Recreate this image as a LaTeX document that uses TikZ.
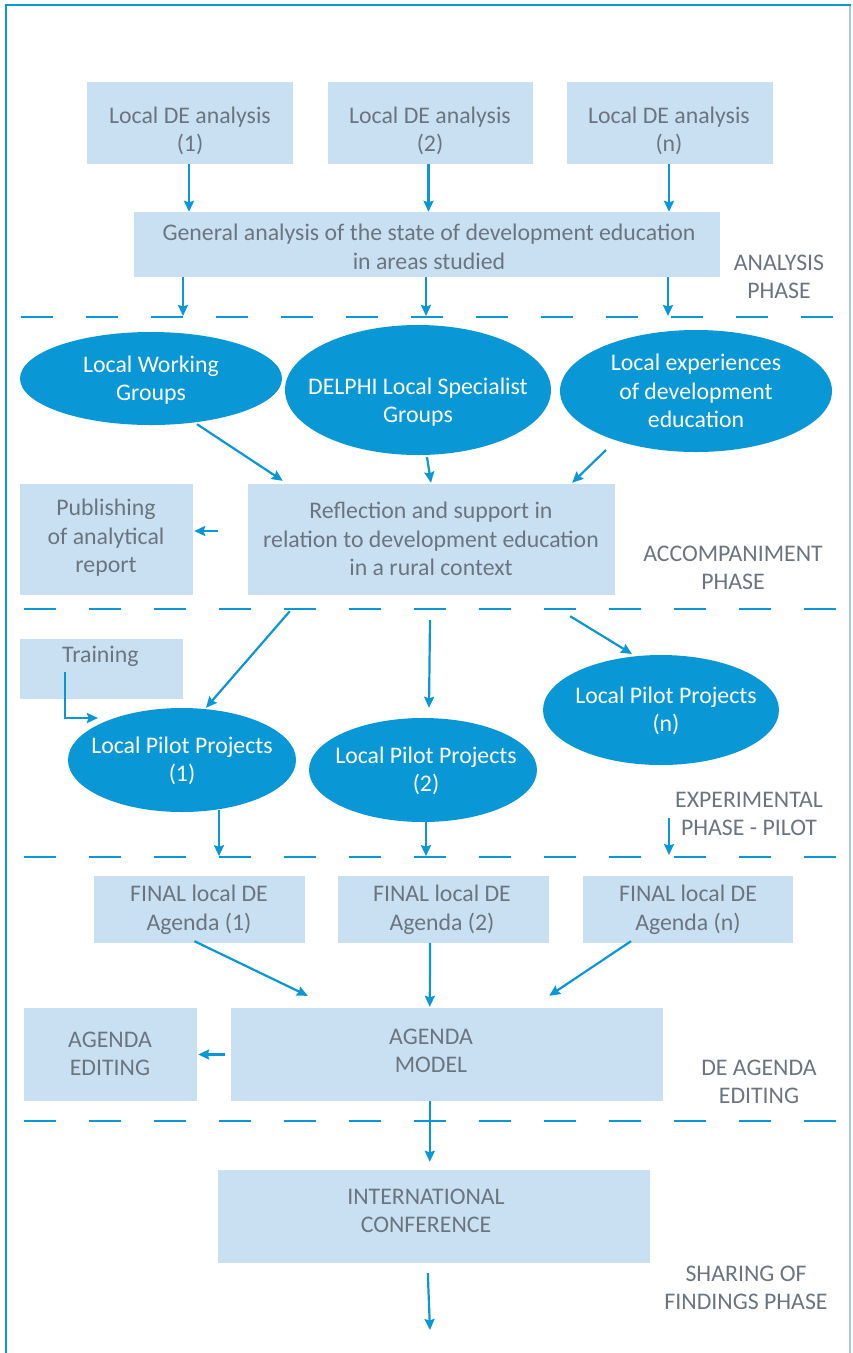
\documentclass[tikz,border=0pt]{standalone}
\usepackage{fontspec}
\setmainfont{Carlito}
\usetikzlibrary{shapes.geometric,arrows.meta,calc}
\definecolor{boxfill}{RGB}{201,224,242}
\definecolor{ellfill}{RGB}{9,151,214}
\definecolor{txtgray}{RGB}{107,117,128}
\definecolor{edgeblue}{RGB}{160,205,235}
\tikzset{
  box/.style={rectangle, fill=boxfill, draw=none, inner sep=0pt},
  oval/.style={ellipse, fill=ellfill, draw=none, inner sep=0pt},
  txt/.style={align=center, text=txtgray, inner sep=0pt, font=\fontsize{23.8}{28.5}\selectfont},
  wtxt/.style={align=center, text=white, inner sep=0pt, font=\fontsize{23.8}{28.5}\selectfont},
  arr/.style={draw=ellfill, line width=2.2pt, -{Stealth[length=11pt,width=10pt,inset=1.5pt]}},
  sep/.style={draw=ellfill, line width=2.6pt, dash pattern=on 32pt off 33pt},
}
\begin{document}
\begin{tikzpicture}[x=1pt,y=-1pt]
\useasboundingbox (0,0) rectangle (853,1353);
% frame
\draw[edgeblue, line width=1.2pt] (850,5) -- (850,1353);
\draw[ellfill, line width=2.6pt] (6,1353) -- (6,5) -- (851,5);
% separators
\draw[sep] (21,317) -- (837,317);
\draw[sep] (24,609) -- (837,609);
\draw[sep] (24,857) -- (837,857);
\draw[sep] (24,1121) -- (837,1121);

% analysis phase
\node[box, minimum width=206, minimum height=82] (lde1) at (190,123) {};
\node[box, minimum width=205, minimum height=82] (lde2) at (430.5,123) {};
\node[box, minimum width=206, minimum height=82] (lden) at (670,123) {};
\node[txt] (lde1t) at (190,131) {Local DE analysis\\(1)};
\node[txt] (lde2t) at (430,131) {Local DE analysis\\(2)};
\node[txt] (ldent) at (669,131) {Local DE analysis\\(n)};
\node[box, minimum width=586, minimum height=65] (gen) at (427,244.5) {};
\node[txt] (gent) at (429,247) {General analysis of the state of development education\\in areas studied};
\node[txt] (ph1) at (779,277) {ANALYSIS\\PHASE};
\draw[arr] ($(lde1.south)+(-1,0)$) -- ($(lde1.south |- gen.north)+(-1,0)$);
\draw[arr] ($(lde2.south)+(-2,0)$) -- ($(lde2.south |- gen.north)+(-2,0)$);
\draw[arr] ($(lden.south)+(-1,0)$) -- ($(lden.south |- gen.north)+(-1,0)$);
\coordinate (g1) at (183,316);
\coordinate (g2) at (426,316);
\coordinate (g3) at (668,316);
\draw[arr] (gen.south -| g1) -- (g1);
\draw[arr] (gen.south -| g2) -- (g2);
\draw[arr] (gen.south -| g3) -- (g3);

% accompaniment phase
\node[oval, minimum width=262, minimum height=93] (lwg) at (151,378.5) {};
\node[oval, minimum width=266, minimum height=130] (delphi) at (418,390) {};
\node[oval, minimum width=272, minimum height=122] (lexp) at (696,391) {};
\node[wtxt] (lwgt) at (151,380) {Local Working\\Groups};
\node[wtxt] (delphit) at (418,402) {DELPHI Local Specialist\\Groups};
\node[wtxt] (lexpt) at (696,391) {Local experiences\\of development\\education};
\node[box, minimum width=367, minimum height=111] (refl) at (431.5,539.5) {};
\node[txt] (reflt) at (431,539) {Reflection and support in\\relation to development education\\in a rural context};
\node[box, minimum width=173, minimum height=111] (pub) at (106.5,539.5) {};
\node[txt] (pubt) at (106,538) {Publishing\\of analytical\\report};
\node[txt] (ph2) at (733,568) {ACCOMPANIMENT\\PHASE};
\draw[arr] ($(lwg.south)+(46,-1)$) -- ($(refl.north west)+(35,-3)$);
\draw[arr] ($(delphi.south)+(9,2)$) -- ($(refl.north)+(-0.5,-1)$);
\draw[arr] ($(lexp.center)+(-90,59)$) -- ($(refl.north east)+(-43,-1)$);
\draw[arr] ($(refl.west)+(-30,-8.5)$) -- ($(pub.east)+(1,-8.5)$);

% experimental phase
\node[box, minimum width=163, minimum height=60] (train) at (101.5,669) {};
\node[txt, anchor=west] (traint) at (62,656) {Training};
\node[oval, minimum width=228, minimum height=104] (lpp1) at (182,760) {};
\node[oval, minimum width=228, minimum height=104] (lpp2) at (423,770) {};
\node[oval, minimum width=236, minimum height=110] (lppn) at (661,710) {};
\node[wtxt] (lpp1t) at (182,761) {Local Pilot Projects\\(1)};
\node[wtxt] (lpp2t) at (426,771) {Local Pilot Projects\\(2)};
\node[wtxt] (lppnt) at (666,711) {Local Pilot Projects\\(n)};
\node[txt] (ph3) at (749,814) {EXPERIMENTAL\\PHASE - PILOT};
\draw[arr] ($(refl.south west)+(42,16)$) -- ($(lpp1.north)+(24,0)$);
\draw[arr] ($(refl.south)+(-1.5,25)$) -- ($(lpp2.north)+(6,-10)$);
\draw[arr] ($(refl.south east)+(-45,21)$) -- ($(lppn.center)+(-29,-56)$);
\draw[draw=ellfill, line width=2.2pt] (65,672) |- (80,718);
\draw[arr] (65,718) -- ($(lpp1.center)+(-84,-42)$);
\draw[arr] ($(lpp1.south)+(37,-2)$) -- ($(lpp1.south)+(37,44)$);
\draw[arr] ($(lpp2.south)+(3,0)$) -- ($(lpp2.south)+(3,34)$);
\coordinate (fr) at (669,818);
\draw[arr] (fr) -- (669,855);

% agenda editing
\node[box, minimum width=211, minimum height=67] (fin1) at (199.5,909.5) {};
\node[box, minimum width=211, minimum height=67] (fin2) at (443.5,909.5) {};
\node[box, minimum width=210, minimum height=67] (finn) at (688,909.5) {};
\node[txt] (fin1t) at (199,910) {FINAL local DE\\Agenda (1)};
\node[txt] (fin2t) at (442,910) {FINAL local DE\\Agenda (2)};
\node[txt] (finnt) at (688,910) {FINAL local DE\\Agenda (n)};
\node[box, minimum width=432, minimum height=93] (am) at (447,1054.5) {};
\node[txt] (amt) at (431,1051) {AGENDA\\MODEL};
\node[box, minimum width=173, minimum height=93] (ae) at (110.5,1054.5) {};
\node[txt] (aet) at (110,1054) {AGENDA\\EDITING};
\node[txt] (ph4) at (759,1082) {DE AGENDA\\EDITING};
\draw[arr] ($(fin1.south)+(-5,-2)$) -- ($(am.north west)+(77,-12)$);
\draw[arr] ($(fin2.south)+(-13.5,0)$) -- ($(am.north west)+(199,-1)$);
\draw[arr] ($(finn.south)+(-57,-2)$) -- ($(am.north east)+(-114,-12)$);
\draw[arr] ($(am.west)+(-6,0)$) -- ($(ae.east)+(1,0)$);

% sharing phase
\node[box, minimum width=432, minimum height=93] (ic) at (434,1216.5) {};
\node[txt] (ict) at (426,1211) {INTERNATIONAL\\CONFERENCE};
\node[txt] (ph5) at (746,1288) {SHARING OF\\FINDINGS PHASE};
\draw[arr] ($(am.south west)+(199,0)$) -- ($(ic.north west)+(212,-8)$);
\coordinate (endp) at (430,1330);
\draw[arr] ($(ic.south west)+(210,10)$) -- (endp);
\end{tikzpicture}
\end{document}
